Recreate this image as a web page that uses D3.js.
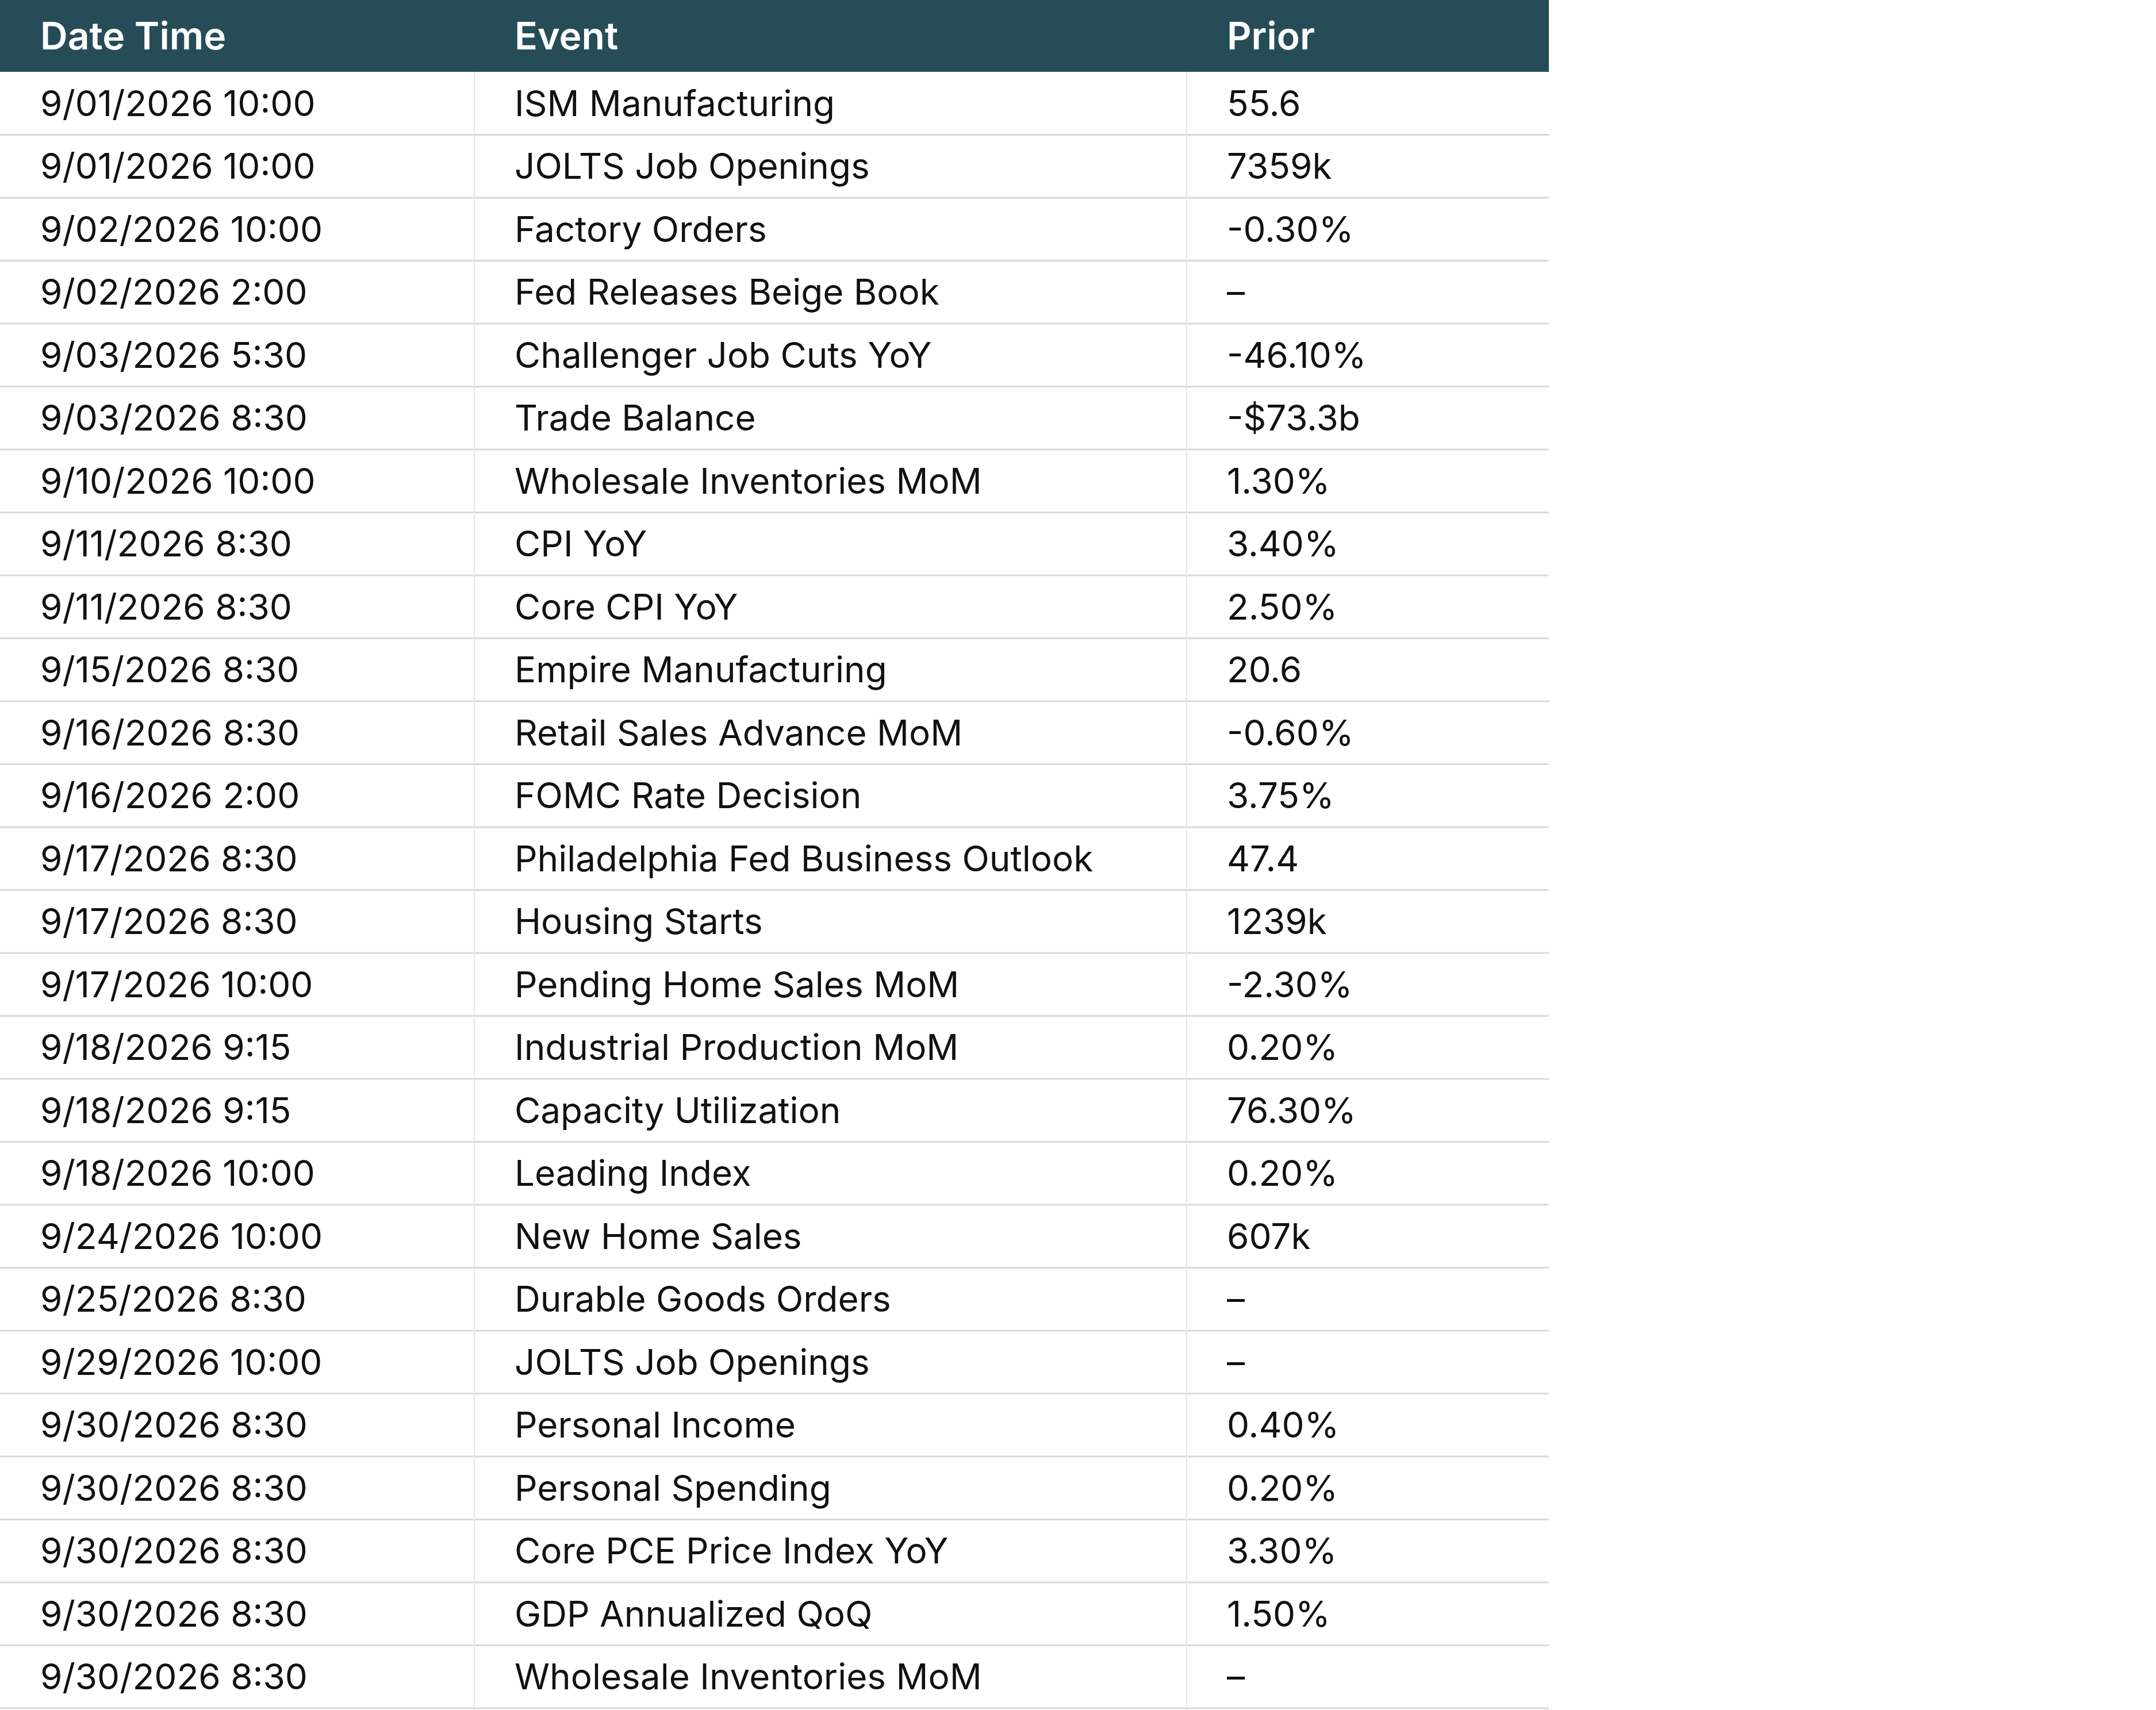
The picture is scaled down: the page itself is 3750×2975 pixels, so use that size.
<!DOCTYPE html>
<meta charset="utf-8">
<script src="https://d3js.org/d3.v7.min.js"></script>
<style>
body { margin:0; background:#fff; }
text { font-family: Inter, "Noto Sans", sans-serif; }
</style>
<body></body>
<script>

var headers = ['Date Time', 'Event', 'Prior'];

var dateTimes = ['9/01/2026 10:00','9/01/2026 10:00','9/02/2026 10:00','9/02/2026 2:00','9/03/2026 5:30',
  '9/03/2026 8:30','9/10/2026 10:00','9/11/2026 8:30','9/11/2026 8:30','9/15/2026 8:30','9/16/2026 8:30',
  '9/16/2026 2:00','9/17/2026 8:30','9/17/2026 8:30','9/17/2026 10:00','9/18/2026 9:15','9/18/2026 9:15',
  '9/18/2026 10:00','9/24/2026 10:00','9/25/2026 8:30','9/29/2026 10:00','9/30/2026 8:30','9/30/2026 8:30',
  '9/30/2026 8:30','9/30/2026 8:30','9/30/2026 8:30'];

var events = ['ISM Manufacturing','JOLTS Job Openings','Factory Orders','Fed Releases Beige Book',
  'Challenger Job Cuts YoY','Trade Balance','Wholesale Inventories MoM','CPI YoY','Core CPI YoY',
  'Empire Manufacturing','Retail Sales Advance MoM','FOMC Rate Decision','Philadelphia Fed Business Outlook',
  'Housing Starts','Pending Home Sales MoM','Industrial Production MoM','Capacity Utilization','Leading Index',
  'New Home Sales','Durable Goods Orders','JOLTS Job Openings','Personal Income','Personal Spending',
  'Core PCE Price Index YoY','GDP Annualized QoQ','Wholesale Inventories MoM'];

var priors = ['55.6','7359k','-0.30%','–','-46.10%','-$73.3b','1.30%','3.40%','2.50%','20.6','-0.60%',
  '3.75%','47.4','1239k','-2.30%','0.20%','76.30%','0.20%','607k','–','–','0.40%','0.20%','3.30%','1.50%','–'];

var W = 3750, H = 2975;
var tableW = 2694, headH = 125, rowH = 109.5;
var colStarts = [0, 825, 2064];
var pad = 70;

var svg = d3.select('body').append('svg')
  .attr('width', W).attr('height', H);

var rows = dateTimes.map(function(d, i) { return [d, events[i], priors[i]]; });

var y = d3.scaleBand()
  .domain(d3.range(rows.length))
  .range([headH, headH + rowH * rows.length]);

// header
svg.append('rect')
  .attr('x', 0).attr('y', 0)
  .attr('width', tableW).attr('height', headH)
  .attr('fill', '#264c58');

svg.selectAll('.head')
  .data(headers).enter().append('text')
  .attr('class', 'head')
  .attr('x', function(d, i) { return colStarts[i] + pad; })
  .attr('y', headH / 2 + 23)
  .attr('fill', '#fff')
  .attr('font-size', 66)
  .attr('font-weight', 600)
  .text(function(d) { return d; });

// row lines
svg.selectAll('.hline')
  .data(rows).enter().append('line')
  .attr('x1', 0).attr('x2', tableW)
  .attr('y1', function(d, i) { return y(i) + y.bandwidth(); })
  .attr('y2', function(d, i) { return y(i) + y.bandwidth(); })
  .attr('stroke', '#d9d9d9').attr('stroke-width', 3);

// column lines
svg.selectAll('.vline')
  .data(colStarts.slice(1)).enter().append('line')
  .attr('x1', function(d) { return d; }).attr('x2', function(d) { return d; })
  .attr('y1', headH).attr('y2', headH + rowH * rows.length)
  .attr('stroke', '#e6e6e6').attr('stroke-width', 2);

// cells
var rowG = svg.selectAll('.row')
  .data(rows).enter().append('g')
  .attr('transform', function(d, i) { return 'translate(0,' + y(i) + ')'; });

rowG.selectAll('text')
  .data(function(d) { return d; }).enter().append('text')
  .attr('x', function(d, i) { return colStarts[i] + pad; })
  .attr('y', rowH / 2 + 22)
  .attr('fill', '#111')
  .attr('font-size', 62)
  .text(function(d) { return d; });

</script>
